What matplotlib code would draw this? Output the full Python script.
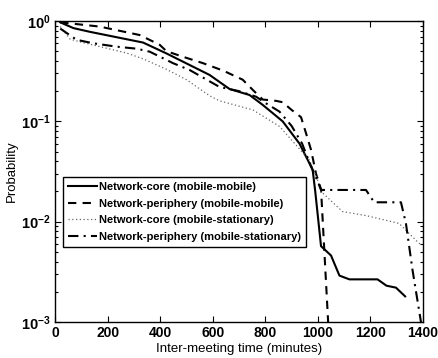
import matplotlib
matplotlib.use("Agg")
import matplotlib.pyplot as plt
from matplotlib.ticker import FixedLocator, FixedFormatter, LogLocator, NullFormatter

plt.rcParams['font.family'] = ['Liberation Sans', 'DejaVu Sans']
plt.rcParams['mathtext.fontset'] = 'custom'
plt.rcParams['mathtext.rm'] = 'Liberation Sans'
plt.rcParams['mathtext.bf'] = 'Liberation Sans:bold'

# Network-core (mobile-mobile)
core_mm_x = [20, 70, 133, 335, 424, 588, 664, 740, 790, 866, 930, 980, 990, 1012, 1050, 1082, 1120, 1227, 1261, 1297, 1332]
core_mm_y = [0.97, 0.85, 0.78, 0.61, 0.475, 0.29, 0.21, 0.183, 0.146, 0.10, 0.06, 0.033, 0.02, 0.0057, 0.0046, 0.0029, 0.00266, 0.00266, 0.0023, 0.0022, 0.0018]

# Network-periphery (mobile-mobile)
peri_mm_x = [20, 170, 322, 398, 424, 487, 563, 640, 714, 753, 790, 841, 866, 900, 936, 955, 974, 993, 1012, 1040]
peri_mm_y = [0.97, 0.88, 0.725, 0.58, 0.50, 0.44, 0.38, 0.32, 0.26, 0.205, 0.165, 0.16, 0.155, 0.13, 0.11, 0.076, 0.052, 0.030, 0.021, 0.0009]

# Network-core (mobile-stationary)
core_ms_x = [20, 57, 95, 171, 272, 335, 424, 500, 588, 626, 753, 854, 917, 968, 995, 1012, 1094, 1183, 1309, 1379, 1395]
core_ms_y = [0.88, 0.66, 0.62, 0.555, 0.48, 0.42, 0.33, 0.26, 0.18, 0.16, 0.13, 0.089, 0.058, 0.041, 0.028, 0.020, 0.0126, 0.0115, 0.0096, 0.0063, 0.0058]

# Network-periphery (mobile-stationary)
peri_ms_x = [20, 82, 145, 234, 310, 360, 449, 512, 626, 700, 765, 803, 854, 900, 940, 975, 1000, 1012, 1183, 1214, 1316, 1335, 1360, 1395]
peri_ms_y = [0.84, 0.65, 0.60, 0.555, 0.53, 0.495, 0.38, 0.325, 0.22, 0.20, 0.176, 0.151, 0.125, 0.09, 0.06, 0.035, 0.025, 0.0207, 0.0207, 0.0156, 0.0156, 0.0096, 0.0033, 0.0009]

labels = ["Network-core (mobile-mobile)",
          "Network-periphery (mobile-mobile)",
          "Network-core (mobile-stationary)",
          "Network-periphery (mobile-stationary)"]

x_ticks = [0, 200, 400, 600, 800, 1000, 1200, 1400]
y_ticks = [1e-3, 1e-2, 1e-1, 1e0]
y_tick_labels = [r'$\mathbf{10^{-3}}$', r'$\mathbf{10^{-2}}$', r'$\mathbf{10^{-1}}$', r'$\mathbf{10^{0}}$']

fig = plt.figure(figsize=(4.38, 3.58), dpi=100)
ax = fig.add_axes([0.1256, 0.1006, 0.8402, 0.8407])

ax.plot(core_mm_x, core_mm_y, color='black', lw=1.5, ls='-', label=labels[0])
ax.plot(peri_mm_x, peri_mm_y, color='black', lw=1.5, ls=(0, (4, 3)), label=labels[1])
ax.plot(core_ms_x, core_ms_y, color='#666666', lw=0.9, ls=(0, (1, 2)), label=labels[2])
ax.plot(peri_ms_x, peri_ms_y, color='black', lw=1.5, ls=(0, (5, 2.5, 1, 2.5)), label=labels[3])

ax.set_yscale('log')
ax.set_xlim(0, 1400)
ax.set_ylim(1e-3, 1)

ax.xaxis.set_major_locator(FixedLocator(x_ticks))
ax.set_xticklabels([str(v) for v in x_ticks], fontsize=10, fontweight='bold')
ax.yaxis.set_major_locator(FixedLocator(y_ticks))
ax.yaxis.set_major_formatter(FixedFormatter(y_tick_labels))
ax.yaxis.set_minor_locator(LogLocator(base=10, subs=range(2, 10)))
ax.yaxis.set_minor_formatter(NullFormatter())
for t in ax.get_yticklabels():
    t.set_fontsize(10.5)

ax.tick_params(which='both', direction='in', top=True, right=True, width=0.8)
ax.tick_params(which='major', length=4, pad=3)
ax.tick_params(which='minor', length=2)
for s in ax.spines.values():
    s.set_linewidth(1.0)

ax.set_xlabel("Inter-meeting time (minutes)", fontsize=9.5, labelpad=2)
ax.set_ylabel("Probability", fontsize=9.5, labelpad=2)

leg = ax.legend(loc='upper left', bbox_to_anchor=(0.022, 0.482), fancybox=False,
                edgecolor='black', framealpha=1, borderpad=0.45, labelspacing=0.6,
                handlelength=2.6, handletextpad=0.2, borderaxespad=0,
                prop={'family': 'Liberation Sans', 'weight': 'bold', 'size': 8})
leg.get_frame().set_linewidth(1.0)

fig.savefig("out.png", dpi=100)
